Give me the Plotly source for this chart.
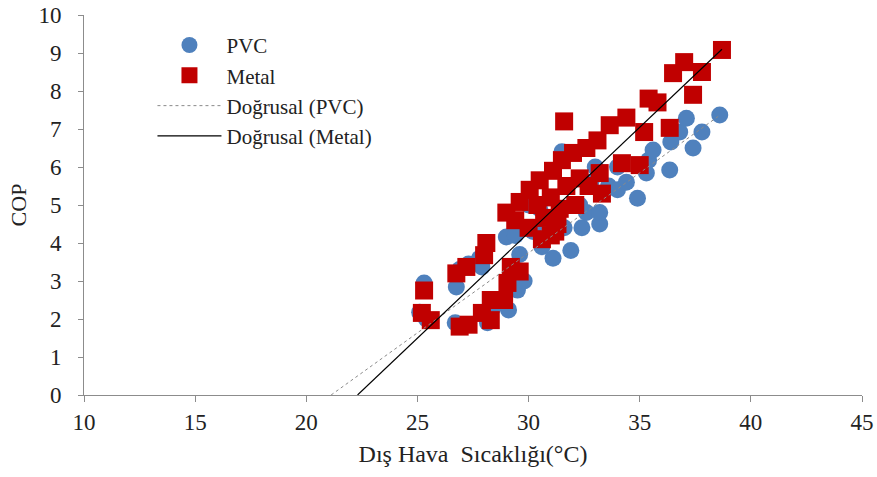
import plotly.graph_objects as go
import numpy as np

# PVC data (outdoor temperature °C, COP)
pvc_x = [25.3, 25.1, 25.4, 26.7, 26.75, 26.9, 27.3, 27.9, 27.8, 28.15, 28.4, 29.1, 29.5, 29.8,
         29.0, 29.4, 29.6, 30.2, 30.6, 30.8, 31.1, 31.3, 31.9, 31.6, 32.3, 32.6, 33.2, 33.2,
         31.5, 31.6, 33.6, 34.0, 34.4, 34.0, 34.9, 35.3, 35.4, 35.6, 36.35, 36.4, 36.8, 37.1,
         37.4, 37.8, 38.6, 30.0, 30.5, 32.8, 33.0, 32.4]
pvc_y = [2.95, 2.18, 2.0, 1.9, 2.84, 3.3, 3.45, 3.37, 3.6, 1.9, 2.3, 2.24, 2.76, 3.0,
         4.16, 4.2, 3.7, 4.3, 3.9, 4.5, 3.6, 4.7, 3.8, 4.4, 5.0, 4.8, 4.5, 4.8,
         6.4, 6.3, 5.5, 5.4, 5.6, 6.0, 5.18, 5.84, 6.18, 6.45, 5.92, 6.66, 6.92, 7.28,
         6.5, 6.92, 7.37, 5.0, 4.9, 5.6, 6.0, 4.4]

# Metal data
metal_x = [25.3, 25.2, 25.6, 26.75, 27.2, 28.0, 28.1, 26.9, 27.3, 27.9, 28.3, 28.3, 28.9, 29.05,
           29.2, 29.6, 29.0, 29.6, 30.05, 30.5, 31.1, 31.5, 32.0, 32.6, 33.1, 33.65, 34.4, 31.6,
           29.4, 30.0, 30.6, 31.0, 31.3, 30.4, 31.0, 31.7, 32.3, 32.7, 33.2, 34.2, 33.3, 35.0,
           35.2, 35.4, 35.8, 36.35, 36.5, 37.0, 37.4, 37.8, 38.7, 31.4, 32.1, 30.7, 31.2]
metal_y = [2.75, 2.16, 1.97, 3.2, 3.37, 3.68, 4.0, 1.8, 1.85, 2.16, 1.97, 2.5, 2.5, 2.95,
           3.37, 3.25, 4.8, 5.08, 5.4, 5.65, 5.9, 6.18, 6.37, 6.5, 6.7, 7.1, 7.3, 7.2,
           4.6, 4.4, 4.1, 4.2, 4.5, 5.0, 5.2, 5.5, 5.7, 5.5, 5.84, 6.1, 5.3, 6.05,
           6.92, 7.8, 7.7, 7.03, 8.47, 8.76, 7.9, 8.5, 9.08, 4.9, 5.0, 4.66, 4.3]

# Linear trendlines: COP = a*T + b
pvc_a, pvc_b = 0.421, -8.89
metal_a, metal_b = 0.555, -12.38

x_ticks = [10, 15, 20, 25, 30, 35, 40, 45]
y_ticks = [0, 1, 2, 3, 4, 5, 6, 7, 8, 9, 10]

FONT = "Liberation Serif"

def trend(a, b, xmax):
    x0 = -b / a
    xs = [x0, xmax]
    return xs, [a * v + b for v in xs]

fig = go.Figure()
fig.add_trace(go.Scatter(x=pvc_x, y=pvc_y, mode="markers", name="PVC",
                         marker=dict(symbol="circle", size=17, color="#4F81BD")))
fig.add_trace(go.Scatter(x=metal_x, y=metal_y, mode="markers", name="Metal",
                         marker=dict(symbol="square", size=18, color="#C00000")))
tx, ty = trend(pvc_a, pvc_b, max(pvc_x))
fig.add_trace(go.Scatter(x=tx, y=ty, mode="lines", name="Doğrusal (PVC)",
                         line=dict(color="#8A8A8A", width=1, dash="dot")))
tx, ty = trend(metal_a, metal_b, max(metal_x))
fig.add_trace(go.Scatter(x=tx, y=ty, mode="lines", name="Doğrusal (Metal)",
                         line=dict(color="#000000", width=1.2)))

fig.update_layout(
    width=877, height=477,
    margin=dict(l=84, r=15, t=15, b=82),
    paper_bgcolor="white", plot_bgcolor="white",
    font=dict(family=FONT, size=22, color="#222"),
    showlegend=True,
    legend=dict(x=0.088, y=0.974, xanchor="left", yanchor="top",
                bgcolor="rgba(0,0,0,0)", font=dict(family=FONT, size=21),
                itemwidth=64, tracegroupgap=0),
    xaxis=dict(range=[10, 45], tickvals=x_ticks, showgrid=False, zeroline=False,
               showline=True, linecolor="#8C8C8C", linewidth=1, automargin=False,
               ticks="outside", ticklen=6, tickcolor="#8C8C8C", ticklabeloverflow="allow",
               tickfont=dict(family=FONT, size=23),
               title=dict(text="Dış Hava  Sıcaklığı(°C)", font=dict(family=FONT, size=24), standoff=11)),
    yaxis=dict(range=[0, 10], tickvals=y_ticks, showgrid=False, zeroline=False,
               showline=True, linecolor="#8C8C8C", linewidth=1, automargin=False,
               ticks="outside", ticklen=5, tickcolor="#8C8C8C", ticklabeloverflow="allow",
               ticklabelstandoff=12,
               tickfont=dict(family=FONT, size=23),
               title=dict(text="COP", font=dict(family=FONT, size=22), standoff=5)),
)

# remove the default page margin so the 877x477 figure fills the window exactly
fig.write_html("out.html",
               config={"displayModeBar": False},
               post_script="document.body.style.margin='0';document.body.style.overflow='hidden';")
